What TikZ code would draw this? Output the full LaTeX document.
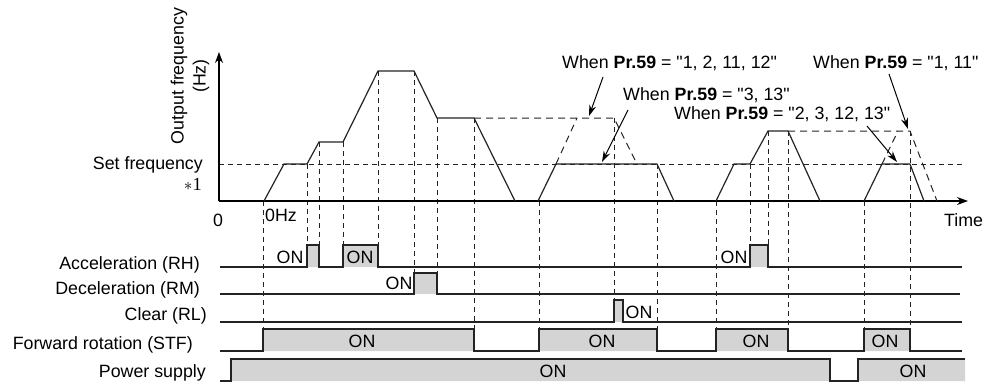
\documentclass[tikz,border=0pt]{standalone}
\usepackage{fontspec}
\setmainfont{Liberation Sans}[Ligatures=TeXOff]
\newfontfamily\serifnum{Liberation Serif}
\usetikzlibrary{arrows.meta,positioning,calc}
\definecolor{wavegray}{RGB}{212,212,212}
\definecolor{inkgray}{RGB}{35,35,35}

\begin{document}
\begin{tikzpicture}[
    x=1pt, y=-1pt,
    font=\fontsize{17.8}{22}\selectfont,
    wave/.style={draw=inkgray, line width=1.2pt},
    sigfill/.style={fill=wavegray},
    guide/.style={draw=inkgray, line width=0.9pt, dash pattern=on 5pt off 4pt},
    alt/.style={draw=inkgray, line width=1pt, dash pattern=on 7pt off 5pt},
    axis/.style={draw=black, line width=1.1pt, -{Stealth[length=11pt,width=8pt]}},
    lbl/.style={anchor=base east, inner sep=0pt},
    onl/.style={anchor=base, inner sep=0pt},
    note/.style={anchor=base west, inner sep=0pt},
    pointer/.style={draw=black, line width=1pt, -{Stealth[length=11pt,width=7pt]}}
  ]
    \useasboundingbox (0,0) rectangle (990,383);

    \draw[guide] (219,164) -- (962,164);
    \foreach \gx/\gt/\gb in {263/201/329, 307/164/245, 319/142/245, 343/142/245,
        378/71/245, 414/71/273, 437/118/273, 474/118/329, 539/201/329,
        614/118/300, 657/164/329, 716/201/329, 750/164/245, 768/131/245,
        788/131/329, 864/201/329, 910/131/329}
      \draw[guide] (\gx,\gt) -- (\gx,\gb);

    \draw[axis] (219,201) -- (219,52);
    \draw[axis] (219,201) -- (968,201);

    \draw[wave] (264,201) -- (284,164) -- (307,164) -- (319,142) -- (343,142)
      -- (378,71) -- (414,71) -- (437,118) -- (474,118) -- (515,201);
    \draw[wave] (538,201) -- (556,164) -- (657,164) -- (674,201);
    \draw[wave] (716,201) -- (734,164) -- (750,164) -- (768,131) -- (788,131) -- (820,201);
    \draw[wave] (864,201) -- (882,164) -- (910,164) -- (924,201);

    \draw[alt] (474,118) -- (614,118) -- (637,164);
    \draw[alt] (556,164) -- (577,118);
    \draw[alt] (788,131) -- (910,131) -- (937,201);
    \draw[alt] (882,164) -- (898,131);

    \node[rotate=90, align=center, inner sep=0pt] (yl) at (190,76)
      {Output frequency\\(Hz)};
    \node[lbl] (setf) at (203,169) {Set frequency};
    \node[lbl] (star) at (202,190) {\serifnum\fontsize{18.5}{20}\selectfont\(\ast\)1};
    \node[onl] (zero) at (218,226) {0};
    \node[note] (zhz) at (265,221) {0Hz};
    \node[note] (time) at (944,226) {Time};

    \node[note] (n1) at (562,68) {When \textbf{Pr.59} = "1, 2, 11, 12"};
    \node[note] (n2) at (623,100) {When \textbf{Pr.59} = "3, 13"};
    \node[note] (n3) at (674,119) {When \textbf{Pr.59} = "2, 3, 12, 13"};
    \node[note] (n4) at (813,68) {When \textbf{Pr.59} = "1, 11"};
    \coordinate (n1s) at (603,77);  \coordinate (n1e) at (589,116);
    \coordinate (n2s) at (628,110); \coordinate (n2e) at (602,162);
    \coordinate (n3s) at (867,126); \coordinate (n3e) at (897,162);
    \coordinate (n4s) at (889,74);  \coordinate (n4e) at (908,129);
    \draw[pointer] (n1s) -- (n1e);
    \draw[pointer] (n2s) -- (n2e);
    \draw[pointer] (n3s) -- (n3e);
    \draw[pointer] (n4s) -- (n4e);

    \node[lbl] (rh) at (200,269) {Acceleration (RH)};
    \node[lbl] (rm) at (200,294) {Deceleration (RM)};
    \node[lbl] (rl) at (207,320) {Clear (RL)};
    \node[lbl] (stf) at (193,349) {Forward rotation (STF)};
    \node[lbl] (pwr) at (206,377) {Power supply};

    \fill[sigfill] (307,245) rectangle (319,267) (343,245) rectangle (378,267)
      (750,245) rectangle (768,267);
    \draw[wave] (220,267) -| (307,245) -| (319,267) -| (343,245) -| (378,267)
      -| (750,245) -| (768,267) -- (962,267);
    \fill[sigfill] (414,273) rectangle (437,294);
    \draw[wave] (220,294) -| (414,273) -| (437,294) -- (960,294);
    \fill[sigfill] (614,300) rectangle (623,322);
    \draw[wave] (220,322) -| (614,300) -| (623,322) -- (962,322);
    \fill[sigfill] (263,329) rectangle (474,351) (539,329) rectangle (657,351)
      (716,329) rectangle (788,351) (864,329) rectangle (910,351);
    \draw[wave] (220,351) -| (263,329) -| (474,351) -| (539,329) -| (657,351)
      -| (716,329) -| (788,351) -| (864,329) -| (910,351) -- (962,351);
    \fill[sigfill] (231,359) rectangle (830,381) (858,359) rectangle (965,381);
    \draw[wave] (220,381) -| (231,359) -| (830,381) -| (858,359) -- (965,359);

    \node[onl] (rhon1) at (290,263) {ON};
    \node[onl] (rhon2) at (360,263) {ON};
    \node[onl] (rhon3) at (734,263) {ON};
    \node[onl] (rmon) at (399,289) {ON};
    \node[onl] (rlon) at (639,318) {ON};
    \node[onl] (stfon1) at (362,347) {ON};
    \node[onl] (stfon2) at (602,347) {ON};
    \node[onl] (stfon3) at (756,347) {ON};
    \node[onl] (stfon4) at (885,347) {ON};
    \node[onl] (pwron1) at (553,377) {ON};
    \node[onl] (pwron2) at (913,377) {ON};
  \end{tikzpicture}
\end{document}
